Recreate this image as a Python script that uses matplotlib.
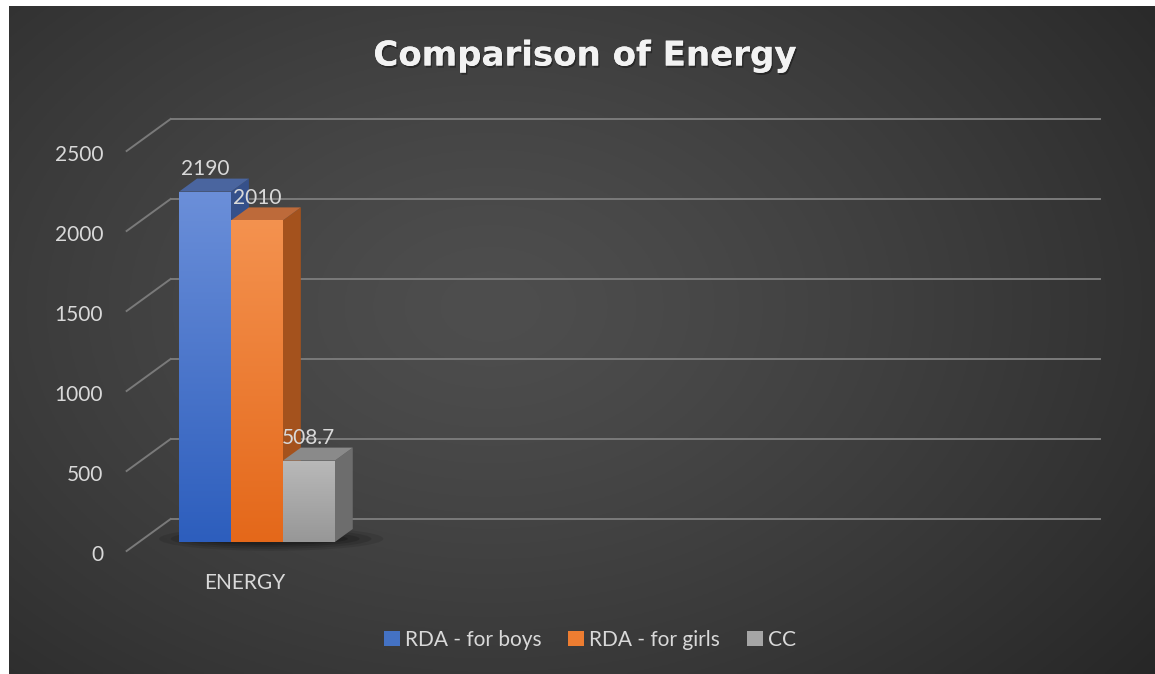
import numpy as np
import matplotlib
matplotlib.use('Agg')
import matplotlib.pyplot as plt
from matplotlib.patches import Polygon, Patch, Ellipse
import matplotlib.patheffects as pe

categories = ['ENERGY']
series_names = ['RDA - for boys', 'RDA - for girls', 'CC']
boys = [2190]
girls = [2010]
cc = [508.7]
y_ticks = [0, 500, 1000, 1500, 2000, 2500]

# front, top, side colours per series (front is a vertical gradient)
front_top = ['#6b8fd9', '#f4924f', '#b9b9b9']
front_bot = ['#2d5ebd', '#e4681a', '#979797']
top_cols = ['#4a659f', '#bd6a3a', '#8a8a8a']
side_cols = ['#35508a', '#a4521d', '#6d6d6d']

W, H = 1155, 674
fig = plt.figure(figsize=(W / 100, H / 100), dpi=100, facecolor='white')

# background with soft radial gradient
bg = fig.add_axes([9 / W, 0, (W - 9) / W, (H - 6) / H])
yy, xx = np.mgrid[0:1:300j, 0:1:400j]
r = np.sqrt(((xx - 0.42) / 0.75) ** 2 + ((yy - 0.45) / 0.9) ** 2)
g = 78 - 40 * np.clip(r, 0, 1) ** 1.3
img = np.dstack([g, g, g]) / 255.0
bg.imshow(img, aspect='auto', extent=(0, 1, 0, 1), origin='upper')
bg.set_axis_off()

# main plotting axes: 236 px per category slot, 0.16 px per unit
ax_l, ax_r, ax_t, ax_b = 139, 1083, 110, 560
ax = fig.add_axes([ax_l / W, (H - ax_b) / H, (ax_r - ax_l) / W, (ax_b - ax_t) / H])
ax.patch.set_alpha(0)
ax.set_axis_off()
xlim = (-0.5, 3.5)
ylim = (-112.5, 2700)
ux = (xlim[1] - xlim[0]) / (ax_r - ax_l)
uy = (ylim[1] - ylim[0]) / (ax_b - ax_t)


def shift(d):
    # oblique depth shift, d in pixels "into" the chart
    return 1.375 * d * ux, d * uy


grid_col = '#7a7a7a'
fx, fy = shift(-9)
bx, by = shift(23)
x_end = 3.437
for v in y_ticks:
    ax.plot([xlim[0] + fx, xlim[0] + bx], [v + fy, v + by], color=grid_col, lw=1.4,
            clip_on=False, zorder=1)
    ax.plot([xlim[0] + bx, x_end + bx], [v + by, v + by], color=grid_col, lw=1.4,
            clip_on=False, zorder=1)
    ax.annotate(str(v), (xlim[0] + fx, v + fy), xytext=(-17, -3), textcoords='offset points',
                ha='right', va='center', fontsize=15, color='#d9d9d9', family='Lato',
                annotation_clip=False)

# shadow under the bars
for k, a in enumerate([0.10, 0.12, 0.15, 0.18]):
    ax.add_patch(Ellipse((0.06, 20), width=0.95 - 0.1 * k, height=150 - 25 * k,
                         color='black', alpha=a, lw=0, zorder=2, clip_on=False))

w = 0.22
sx, sy = shift(13)
values = [boys, girls, cc]
for ci, cat in enumerate(categories):
    for i, vals in enumerate(values):
        v = vals[ci]
        xc = ci + (i - 1) * w
        x0, x1 = xc - w / 2, xc + w / 2
        z = 3 + i * 3
        side = Polygon([(x1, 0), (x1 + sx, sy), (x1 + sx, v + sy), (x1, v)],
                       closed=True, facecolor=side_cols[i], lw=0, zorder=z)
        ax.add_patch(side)
        top = Polygon([(x0, v), (x1, v), (x1 + sx, v + sy), (x0 + sx, v + sy)],
                      closed=True, facecolor=top_cols[i], lw=0, zorder=z + 1)
        ax.add_patch(top)
        bar = ax.bar(xc, v, width=w, color=front_bot[i], lw=0, zorder=z + 2)[0]
        c0 = np.array(matplotlib.colors.to_rgb(front_top[i]))
        c1 = np.array(matplotlib.colors.to_rgb(front_bot[i]))
        t = np.linspace(0, 1, 128)[:, None, None]
        grad = c0 * (1 - t) + c1 * t
        im = ax.imshow(grad, extent=(x0, x1, 0, v), aspect='auto', origin='upper',
                       zorder=z + 2.5)
        im.set_clip_path(bar)
        ax.annotate(f'{v:g}', (xc, v), xytext=(0, 16), textcoords='offset points',
                    ha='center', va='center', fontsize=15, color='#d9d9d9',
                    family='Lato', zorder=20, annotation_clip=False)
    ax.annotate(cat, (ci + fx, fy), xytext=(0, -23), textcoords='offset points',
                ha='center', va='center', fontsize=15, color='#d9d9d9', family='Lato',
                annotation_clip=False)

ax.set_xlim(*xlim)
ax.set_ylim(*ylim)

fig.text(585 / W, 1 - 56 / H, 'Comparison of Energy', ha='center', va='center',
         fontsize=24.5, fontweight='bold', family='DejaVu Sans', color='#f2f2f2',
         path_effects=[pe.withSimplePatchShadow(offset=(1, -1.5), shadow_rgbFace='black',
                                                alpha=0.35), pe.Normal()])

handles = [Patch(facecolor=c, edgecolor='none') for c in ['#4472c4', '#ed7d31', '#a5a5a5']]
leg = fig.legend(handles, series_names, loc='center', bbox_to_anchor=(590 / W, 1 - 640 / H),
                 ncol=3, frameon=False, handlelength=0.75, handleheight=0.75,
                 handletextpad=0.25, columnspacing=1.3, prop={'family': 'Lato', 'size': 15})
for txt in leg.get_texts():
    txt.set_color('#d9d9d9')

fig.savefig('out.png', dpi=100, facecolor='white')
